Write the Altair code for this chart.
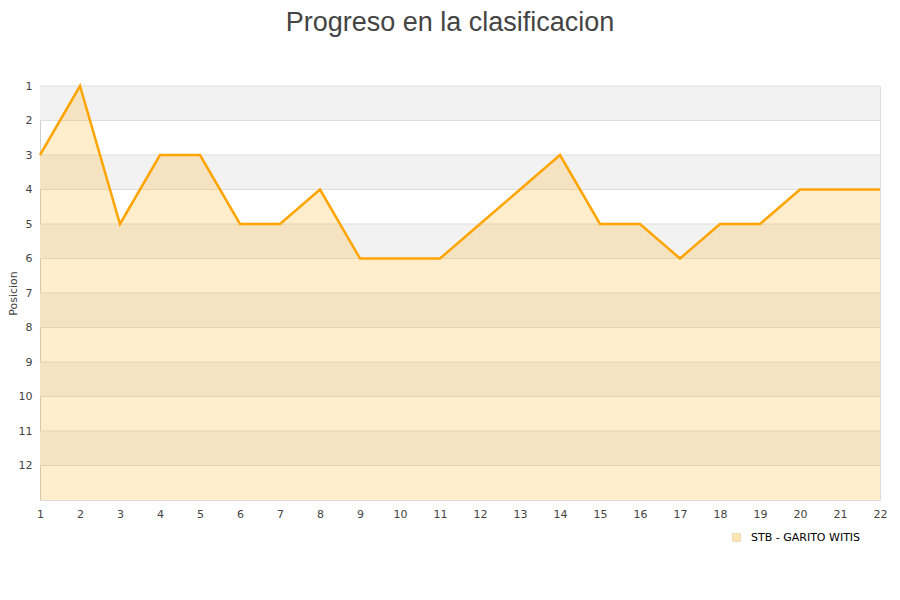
import altair as alt
import pandas as pd

jornadas = list(range(1, 23))
posiciones = [3, 1, 5, 3, 3, 5, 5, 4, 6, 6, 6, 5, 4, 3, 5, 5, 6, 5, 5, 4, 4, 4]
equipo = "STB - GARITO WITIS"
band_starts = [1, 3, 5, 7, 9, 11]
y_ticks = list(range(1, 13))

df = pd.DataFrame({"jornada": jornadas, "pos": posiciones, "equipo": [equipo] * len(jornadas)})
bands = pd.DataFrame({"b0": band_starts, "b1": [b + 1 for b in band_starts]})
grid = pd.DataFrame({"g": y_ticks})

xs = alt.Scale(domain=[1, 22], nice=False, zero=False)
ys = alt.Scale(domain=[1, 13], reverse=True, nice=False, zero=False)

xaxis = alt.Axis(values=jornadas, title=None, ticks=False, domain=False, grid=False,
                 labelFont="DejaVu Sans", labelFontSize=11, labelColor="#444", labelPadding=8,
                 labelFlush=False, labelOverlap=False)
yaxis = alt.Axis(values=y_ticks, title="Posicion", ticks=False, domain=True, domainColor="#d0d0d0",
                 grid=False, labelFont="DejaVu Sans", labelFontSize=11,
                 labelColor="#444", labelPadding=8, labelOverlap=False,
                 titleFont="DejaVu Sans", titleFontSize=11,
                 titleFontWeight="normal", titleColor="#444", titleX=-22, titleY=207,
                 titleAngle=270, titleBaseline="bottom")

band_layer = alt.Chart(bands).mark_rect(color="#f2f2f2").encode(
    x=alt.datum(1, scale=xs, axis=xaxis),
    x2=alt.datum(22),
    y=alt.Y("b0:Q", scale=ys, axis=yaxis),
    y2="b1:Q",
)

grid_layer = alt.Chart(grid).mark_rule(color="#dedede", strokeWidth=1).encode(
    x=alt.datum(1, scale=xs, axis=xaxis),
    x2=alt.datum(22),
    y=alt.Y("g:Q", scale=ys, axis=yaxis),
)

area_layer = alt.Chart(df).mark_area(fillOpacity=0.2, interpolate="linear").encode(
    x=alt.X("jornada:Q", scale=xs, axis=xaxis),
    y=alt.Y("pos:Q", scale=ys, axis=yaxis),
    y2=alt.datum(13),
    color=alt.Color("equipo:N", scale=alt.Scale(range=["#FFA500"]),
                    legend=alt.Legend(title=None, orient="none", legendX=691, legendY=446,
                                      symbolType="square", symbolSize=64,
                                      symbolStrokeColor="#c98a20",
                                      symbolStrokeWidth=1, symbolOpacity=0.3,
                                      labelFont="DejaVu Sans", labelFontSize=11,
                                      labelColor="#000", labelOffset=9)),
)

line_layer = alt.Chart(df).mark_line(color="#FFA500", strokeWidth=2.5).encode(
    x=alt.X("jornada:Q", scale=xs, axis=xaxis),
    y=alt.Y("pos:Q", scale=ys, axis=yaxis),
)

chart = alt.layer(band_layer, grid_layer, area_layer, line_layer).properties(
    width=840,
    height=414,
    autosize=alt.AutoSizeParams(type="none"),
    padding={"left": 32, "top": 78, "right": 12, "bottom": 92},
    title=alt.TitleParams("Progreso en la clasificacion", font="Liberation Sans", fontSize=27,
                          fontWeight="normal", color="#444", anchor="middle", dx=-10,
                          offset=22, baseline="alphabetic"),
).configure_view(stroke="#dcdcdc", strokeWidth=1).configure_axis(labelOverlap=False)

chart.save("out.html", embed_options={"renderer": "svg", "actions": False})
